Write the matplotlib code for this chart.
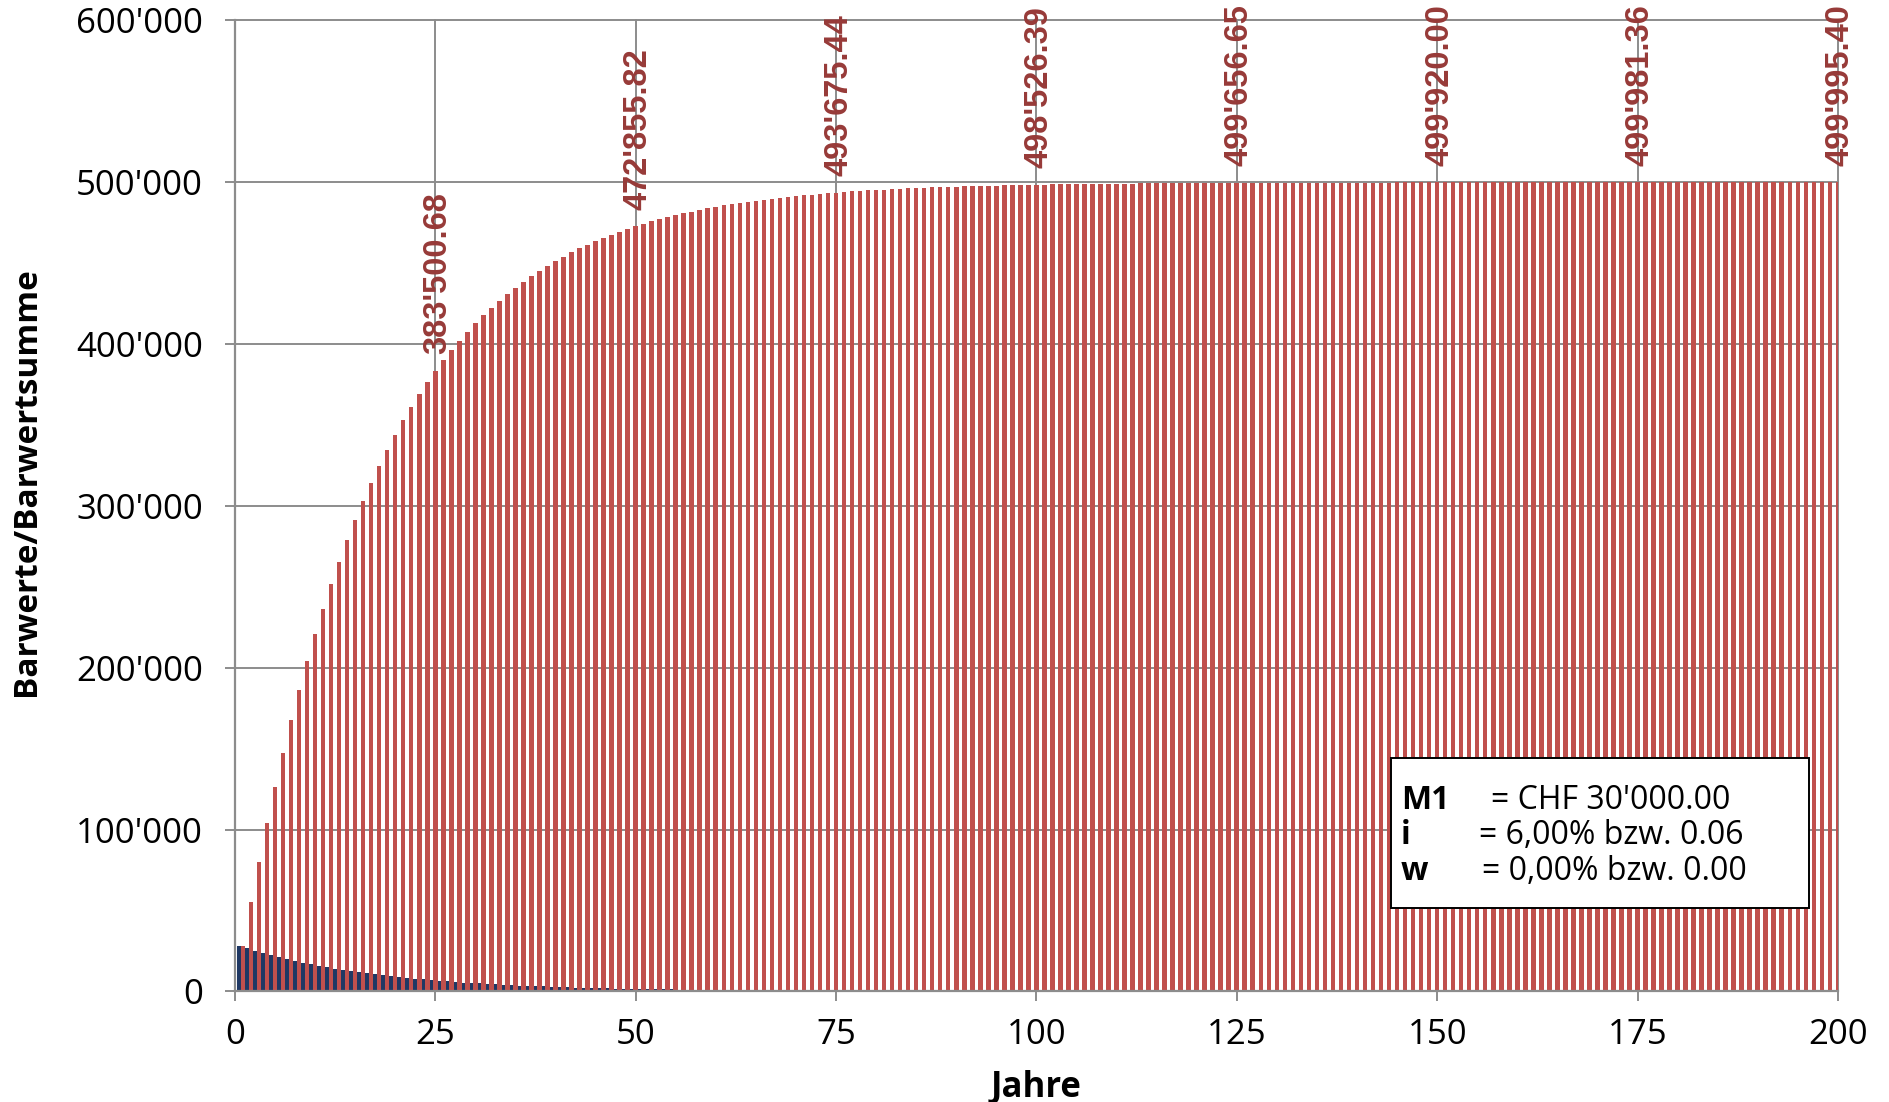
import numpy as np
import matplotlib.pyplot as plt
from matplotlib.ticker import FuncFormatter, MultipleLocator
from matplotlib.patches import Rectangle

# Barwertsumme (rot) und Barwert pro Jahr (blau), Jahre 1..200
red = [
    28302, 55002, 80191, 103953, 126371, 147520, 167472, 186294, 204051, 220803,
    236606, 251516, 265581, 278850, 291368, 303177, 314318, 324828, 334744, 344098,
    352922, 361248, 369102, 376511, 383501, 390095, 396316, 402185, 407722, 412945,
    417873, 422521, 426907, 431044, 434947, 438630, 442103, 445381, 448472, 451389,
    454141, 456737, 459185, 461496, 463675, 465731, 467671, 469501, 471227, 472856,
    474392, 475842, 477209, 478499, 479716, 480864, 481947, 482969, 483933, 484843,
    485701, 486510, 487274, 487994, 488674, 489315, 489920, 490490, 491029, 491536,
    492015, 492467, 492894, 493296, 493675, 494033, 494371, 494690, 494990, 495274,
    495541, 495794, 496032, 496257, 496468, 496668, 496857, 497035, 497203, 497361,
    497510, 497651, 497784, 497910, 498028, 498140, 498245, 498344, 498438, 498526,
    498610, 498688, 498763, 498833, 498899, 498961, 499020, 499075, 499128, 499177,
    499224, 499268, 499309, 499348, 499385, 499420, 499453, 499484, 499513, 499541,
    499567, 499591, 499614, 499636, 499657, 499676, 499695, 499712, 499728, 499744,
    499758, 499772, 499785, 499797, 499809, 499820, 499830, 499839, 499849, 499857,
    499865, 499873, 499880, 499887, 499893, 499899, 499905, 499910, 499915, 499920,
    499925, 499929, 499933, 499937, 499940, 499944, 499947, 499950, 499953, 499955,
    499958, 499960, 499963, 499965, 499967, 499969, 499970, 499972, 499974, 499975,
    499977, 499978, 499979, 499980, 499981, 499982, 499983, 499984, 499985, 499986,
    499987, 499988, 499988, 499989, 499990, 499990, 499991, 499991, 499992, 499992,
    499993, 499993, 499993, 499994, 499994, 499995, 499995, 499995, 499995, 499995,
]
blue = [
    28302, 26700, 25189, 23763, 22418, 21149, 19952, 18822, 17757, 16752,
    15804, 14909, 14065, 13269, 12518, 11809, 11141, 10510, 9915, 9354,
    8825, 8325, 7854, 7409, 6990, 6594, 6221, 5869, 5537, 5223,
    4928, 4649, 4386, 4137, 3903, 3682, 3474, 3277, 3092, 2917,
    2752, 2596, 2449, 2310, 2180, 2056, 1940, 1830, 1726, 1629,
    1536, 1449, 1367, 1290, 1217, 1148, 1083, 1022, 964, 909,
    858, 809, 764, 720, 680, 641, 605, 571, 538, 508,
    479, 452, 426, 402, 380, 358, 338, 319, 301, 284,
    268, 252, 238, 225, 212, 200, 189, 178, 168, 158,
    149, 141, 133, 125, 118, 112, 105, 99, 94, 88,
    83, 79, 74, 70, 66, 62, 59, 55, 52, 49,
    47, 44, 41, 39, 37, 35, 33, 31, 29, 28,
    26, 25, 23, 22, 21, 19, 18, 17, 16, 15,
    15, 14, 13, 12, 11, 11, 10, 10, 9, 9,
    8, 8, 7, 7, 6, 6, 6, 5, 5, 5,
    5, 4, 4, 4, 4, 3, 3, 3, 3, 3,
    3, 2, 2, 2, 2, 2, 2, 2, 2, 1,
    1, 1, 1, 1, 1, 1, 1, 1, 1, 1,
    1, 1, 1, 1, 1, 1, 1, 1, 0, 0,
    0, 0, 0, 0, 0, 0, 0, 0, 0, 0,
]
years = np.arange(1, len(red) + 1)

label_years = [25, 50, 75, 100, 125, 150, 175, 200]
label_texts = ["383'500.68", "472'855.82", "493'675.44", "498'526.39",
               "499'656.65", "499'920.00", "499'981.36", "499'995.40"]

info_keys = ["M1", "i", "w"]
info_vals = ["= CHF 30'000.00", "= 6,00% bzw. 0.06", "= 0,00% bzw. 0.00"]

RED = "#C0504D"
BLUE = "#1F3864"
LABEL_RED = "#973A38"
GRID = "#8C8C8C"

plt.rcParams["font.family"] = ["Open Sans", "DejaVu Sans"]

fig = plt.figure(figsize=(18.89, 11.02), dpi=100)
ax = fig.add_axes([0.1244, 0.1003, 0.8486, 0.8811])

# blue sits left of red, red slightly wider (Excel-like clustered look)
ax.bar(years - 0.78, blue, width=0.48, align="edge", color=BLUE, linewidth=0, zorder=2)
ax.bar(years - 0.30, red, width=0.57, align="edge", color=RED, linewidth=0, zorder=3)

for yr, txt in zip(label_years, label_texts):
    ax.annotate(txt, xy=(yr + 0.3, red[yr - 1]), xytext=(0, 12),
                textcoords="offset points", rotation=90, ha="center", va="bottom",
                color=LABEL_RED, fontsize=23.5, fontweight="bold",
                family="Liberation Sans", annotation_clip=False, zorder=6)

ax.set_xlim(0, 200)
ax.set_ylim(0, 600000)
ax.xaxis.set_major_locator(MultipleLocator(25))
ax.yaxis.set_major_locator(MultipleLocator(100000))
ax.yaxis.set_major_formatter(FuncFormatter(lambda v, p: f"{int(v):,}".replace(",", "'")))

ax.set_axisbelow(True)
ax.grid(True, color=GRID, linewidth=1.4, zorder=0)
for gl in ax.get_xgridlines() + ax.get_ygridlines():
    gl.set_clip_on(False)

for s in ["top", "right"]:
    ax.spines[s].set_visible(False)
for s in ["left", "bottom"]:
    ax.spines[s].set_color(GRID)
    ax.spines[s].set_linewidth(1.6)
    ax.spines[s].set_zorder(4)

ax.tick_params(axis="both", direction="out", length=7, width=1.4, color=GRID,
               labelsize=25, labelcolor="black")
ax.tick_params(axis="y", pad=16)
ax.tick_params(axis="x", pad=12)

fig.text(0.014, 0.563, "Barwerte/Barwertsumme", rotation=90, ha="center", va="center",
         fontsize=24, fontweight="bold")
fig.text(0.5485, 0.013, "Jahre", ha="center", va="center", fontsize=25, fontweight="bold")

# Parameterbox
ax.add_patch(Rectangle((0.721, 0.086), 0.261, 0.1545, transform=ax.transAxes,
                       facecolor="white", edgecolor="black", linewidth=1.4, zorder=7))
key_y = [0.1968, 0.1606, 0.1231]
val_x = [0.7835, 0.776, 0.778]
for k, v, yy, vx in zip(info_keys, info_vals, key_y, val_x):
    ax.text(0.7274, yy, k, transform=ax.transAxes, ha="left", va="center",
            fontsize=23, fontweight="bold", zorder=8)
    ax.text(vx, yy, v, transform=ax.transAxes, ha="left", va="center",
            fontsize=23, zorder=8)

fig.savefig("out.png", dpi=100)
